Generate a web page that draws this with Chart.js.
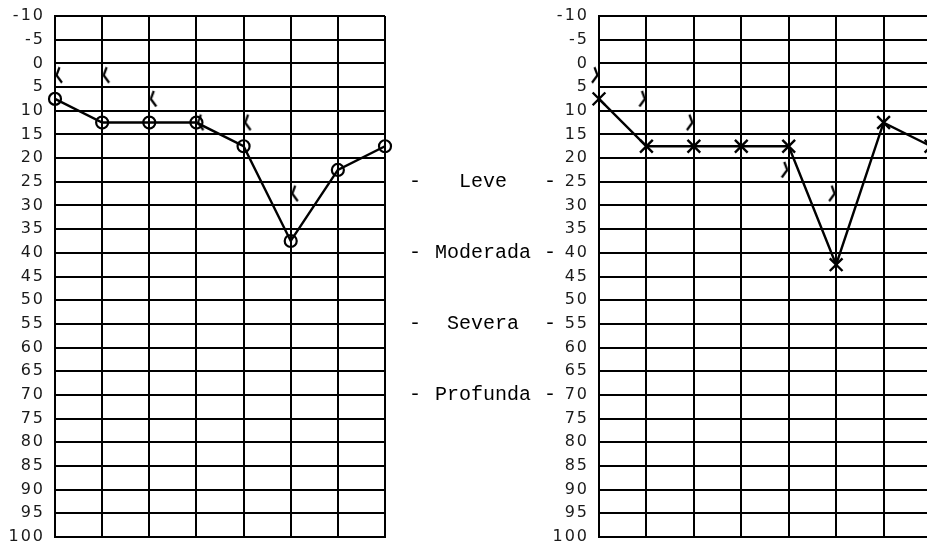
<!DOCTYPE html>
<html><head><meta charset="utf-8">
<script src="https://cdn.jsdelivr.net/npm/chart.js@4/dist/chart.umd.min.js"></script>
<style>
html,body{margin:0;padding:0;background:#fff;overflow:hidden;width:927px;height:541px;}
#c1{position:absolute;left:0;top:0;}
#c2{position:absolute;left:400px;top:0;}
</style></head><body>
<canvas id="c1" width="400" height="560"></canvas>
<canvas id="c2" width="546" height="560"></canvas>
<script>
// ---- data ----
const frequencies = ['250','500','1000','2000','3000','4000','6000','8000'];
const dbMin = -10, dbMax = 100, dbStep = 5;
const rightAir  = [7.5, 12.5, 12.5, 12.5, 17.5, 37.5, 22.5, 17.5];
const rightBone = [2.5, 2.5, 7.5, 12.5, 12.5, 27.5, null, null];
const leftAir   = [7.5, 17.5, 17.5, 17.5, 17.5, 42.5, 12.5, 17.5];
const leftBone  = [2.5, 7.5, 12.5, null, 22.5, 27.5, null, null];
const severityLabels = ['Leve', 'Moderada', 'Severa', 'Profunda'];
const severityLevels = [25, 40, 55, 70];

// ---- marker images ----
function boneMarker(pointsRight) {
  const c = document.createElement('canvas');
  c.width = 24; c.height = 22;
  const g = c.getContext('2d');
  g.strokeStyle = '#000'; g.lineWidth = 2.2; g.lineJoin = 'miter';
  const cx = 12, cy = 11;
  g.beginPath();
  if (!pointsRight) {       // "<" drawn right of the point
    g.moveTo(cx + 4.5, cy - 8); g.lineTo(cx + 1.5, cy); g.lineTo(cx + 7, cy + 7.5);
  } else {                  // ">" drawn left of the point
    g.moveTo(cx - 4.5, cy - 8); g.lineTo(cx - 1.5, cy); g.lineTo(cx - 7, cy + 7.5);
  }
  g.stroke();
  return c;
}
const lessMark = boneMarker(false);
const greaterMark = boneMarker(true);

const spacingPlugin = {
  id: 'spacing',
  beforeUpdate(chart) { chart.ctx.letterSpacing = '2px'; },
  beforeDraw(chart) { chart.ctx.letterSpacing = '2px'; }
};

function baseOptions(yWidth, padRight) {
  return {
    responsive: false,
    animation: false,
    layout: { padding: { top: 16, bottom: 23, left: 0, right: padRight } },
    plugins: { legend: { display: false }, tooltip: { enabled: false } },
    scales: {
      x: {
        type: 'category',
        offset: false,
        ticks: { display: false },
        grid: { color: '#000', lineWidth: 2, drawTicks: false },
        border: { color: '#000', width: 2 }
      },
      y: {
        reverse: true,
        min: dbMin, max: dbMax,
        afterFit: s => { s.width = yWidth; s.paddingTop = 0; s.paddingBottom = 0; },
        ticks: {
          stepSize: dbStep,
          padding: 10,
          color: '#1a1a1a',
          font: { family: 'DejaVu Sans', size: 16 }
        },
        grid: { color: '#000', lineWidth: 2, drawTicks: false },
        border: { color: '#000', width: 2 }
      }
    }
  };
}

// Left panel (right ear)
new Chart(document.getElementById('c1'), {
  type: 'line',
  data: {
    labels: frequencies,
    datasets: [
      { data: rightAir, borderColor: '#000', borderWidth: 2.4, pointStyle: 'circle',
        pointRadius: 6, pointBorderWidth: 2.2, pointBorderColor: '#000',
        pointBackgroundColor: 'rgba(0,0,0,0)', tension: 0, clip: false },
      { data: rightBone, showLine: false, pointStyle: lessMark, pointRadius: 8, clip: false }
    ]
  },
  options: baseOptions(55, 15),
  plugins: [spacingPlugin]
});

// Severity labels between panels
const severityPlugin = {
  id: 'severity',
  afterDraw(chart) {
    const ctx = chart.ctx, y = chart.scales.y;
    ctx.save();
    ctx.letterSpacing = '0px';
    ctx.fillStyle = '#000';
    ctx.font = '20px "Liberation Mono"';
    ctx.textBaseline = 'middle';
    severityLabels.forEach((lab, i) => {
      const py = y.getPixelForValue(severityLevels[i]);
      ctx.textAlign = 'left';
      ctx.fillText('-', 9, py);
      ctx.fillText('-', 144, py);
      ctx.textAlign = 'center';
      ctx.fillText(lab, 83, py);
    });
    ctx.restore();
  }
};

// Right panel (left ear)
new Chart(document.getElementById('c2'), {
  type: 'line',
  data: {
    labels: frequencies,
    datasets: [
      { data: leftAir, borderColor: '#000', borderWidth: 2.4, pointStyle: 'crossRot',
        pointRadius: 9, pointBorderWidth: 2.4, pointBorderColor: '#000', tension: 0, clip: false },
      { data: leftBone, showLine: false, pointStyle: greaterMark, pointRadius: 8, clip: false }
    ]
  },
  options: baseOptions(199, 15),
  plugins: [spacingPlugin, severityPlugin]
});
</script>
</body></html>
